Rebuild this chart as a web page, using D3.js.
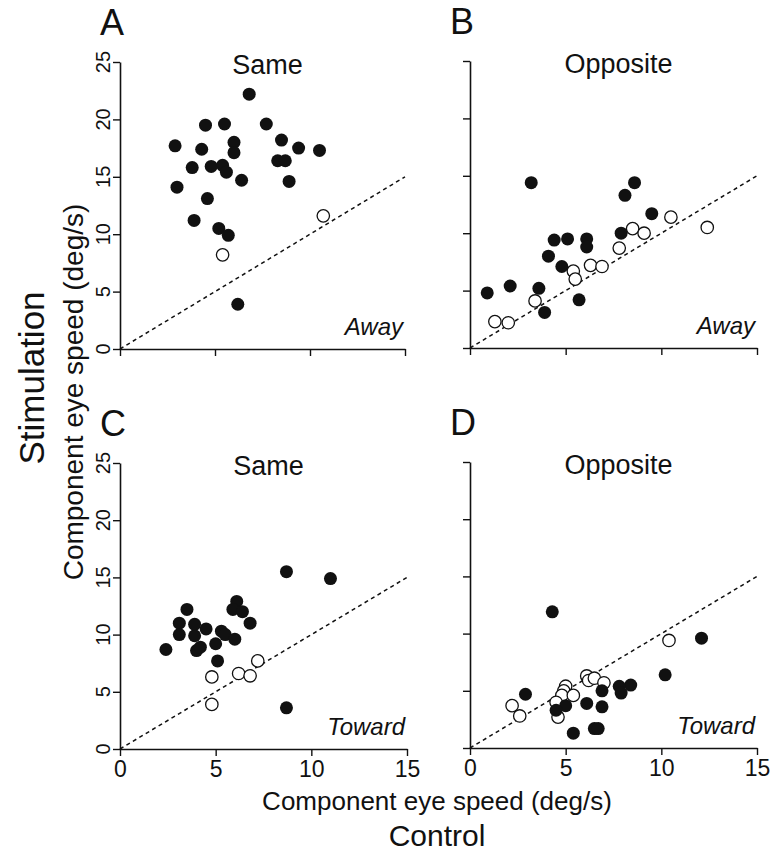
<!DOCTYPE html>
<html>
<head>
<meta charset="utf-8">
<script src="https://cdn.jsdelivr.net/npm/d3@7"></script>
<style>
  body { margin: 0; background: #fff; }
  svg { display: block; font-family: "Liberation Sans", Arial, Helvetica, sans-serif; }
</style>
</head>
<body>
<svg id="chart" width="773" height="854"></svg>
<script>
// values, [control, stimulation] in deg/s
const aFilled = [[6.8,22.2],[4.5,19.5],[5.5,19.6],[7.7,19.6],[2.9,17.7],[4.3,17.4],[6.0,18.0],[6.0,17.1],
  [8.5,18.2],[9.4,17.5],[10.5,17.3],[3.8,15.8],[4.8,15.9],[5.4,16.0],[5.6,15.4],[6.4,14.7],[8.3,16.4],
  [8.7,16.4],[8.9,14.6],[3.0,14.1],[4.6,13.1],[3.9,11.2],[5.2,10.5],[5.7,9.9],[6.2,3.9]]
const aOpen = [[5.4,8.2],[10.7,11.6]]

const bFilled = [[3.2,14.4],[8.6,14.4],[8.1,13.3],[9.5,11.7],[4.4,9.4],[5.1,9.5],[6.1,9.5],[6.1,8.8],
  [7.9,10.0],[4.1,8.0],[4.8,7.1],[0.9,4.8],[2.1,5.4],[3.6,5.2],[3.9,3.1],[5.7,4.2]]
const bOpen = [[10.5,11.4],[12.4,10.5],[8.5,10.4],[9.1,10.0],[7.8,8.7],[6.3,7.2],[6.9,7.1],[5.4,6.7],
  [5.5,6.0],[3.4,4.1],[1.3,2.3],[2.0,2.2]]

const cFilled = [[8.7,15.5],[11.0,14.9],[3.5,12.2],[6.1,12.9],[5.9,12.2],[6.4,12.0],[6.8,11.0],[3.1,11.0],
  [3.9,10.9],[4.5,10.5],[3.1,10.0],[3.9,9.9],[5.3,10.3],[5.5,10.0],[6.0,9.6],[5.0,9.2],[2.4,8.7],
  [4.0,8.6],[4.2,8.9],[5.1,7.7],[8.7,3.6]]
const cOpen = [[7.2,7.7],[6.2,6.6],[6.8,6.4],[4.8,6.3],[4.8,3.9]]

const dFilled = [[4.3,11.9],[12.1,9.6],[10.2,6.4],[8.4,5.5],[7.8,5.4],[7.9,4.8],[6.9,5.0],[2.9,4.7],
  [6.1,3.9],[6.9,3.6],[5.0,3.7],[4.5,3.3],[5.4,1.3],[6.5,1.7],[6.7,1.7]]
const dOpen = [[10.4,9.4],[6.1,6.3],[6.2,5.9],[6.5,6.1],[7.0,5.7],[5.0,5.4],[4.9,5.0],[4.8,4.6],
  [5.4,4.6],[4.5,4.0],[4.6,2.7],[2.2,3.7],[2.6,2.8]]

const xTicks = [0, 5, 10, 15]
const yTicks = [0, 5, 10, 15, 20, 25]
const unity = [[0, 0], [15, 15]]

const panelLetters = ["A", "B", "C", "D"]
const titles = ["Same", "Opposite", "Same", "Opposite"]
const directions = ["Away", "Away", "Toward", "Toward"]

const svg = d3.select("#chart")
const ink = "#111"

const panels = [
  { filled: aFilled, open: aOpen, x0: 120, x1: 405, y0: 349, y1: 62, xLab: false, yLab: true },
  { filled: bFilled, open: bOpen, x0: 470, x1: 757, y0: 348, y1: 61, xLab: false, yLab: false },
  { filled: cFilled, open: cOpen, x0: 120, x1: 407, y0: 749, y1: 463, xLab: true, yLab: true },
  { filled: dFilled, open: dOpen, x0: 470, x1: 757, y0: 748, y1: 462, xLab: true, yLab: false }
]

panels.forEach((p, i) => {
  const x = d3.scaleLinear().domain([0, 15]).range([p.x0, p.x1])
  const y = d3.scaleLinear().domain([0, 25]).range([p.y0, p.y1])
  const g = svg.append("g")

  // axes
  const xAxis = d3.axisBottom(x).tickValues(xTicks).tickSize(7).tickSizeOuter(0)
    .tickFormat(p.xLab ? d3.format("d") : "")
  const gx = g.append("g").attr("transform", `translate(0,${p.y0})`).call(xAxis)
  const yAxis = d3.axisLeft(y).tickValues(yTicks).tickSize(7).tickSizeOuter(0).tickFormat("")
  const gy = g.append("g").attr("transform", `translate(${p.x0},0)`).call(yAxis)

  ;[gx, gy].forEach(a => {
    a.select(".domain").attr("stroke", ink).attr("stroke-width", 1.6)
    a.selectAll(".tick line").attr("stroke", ink).attr("stroke-width", 1.4)
  })
  gx.selectAll(".tick text").attr("font-size", 23).attr("fill", ink)
    .attr("font-family", "'Liberation Sans', Arial, sans-serif").attr("dy", "0.8em")

  if (p.yLab) {
    g.selectAll(".ylab").data(yTicks).enter().append("text")
      .attr("transform", d => `translate(${p.x0 - 10},${y(d)}) rotate(-90)`)
      .attr("text-anchor", "middle")
      .attr("font-size", 20).attr("fill", ink)
      .text(d => d)
  }

  // unity line
  g.append("path").datum(unity)
    .attr("d", d3.line().x(d => x(d[0])).y(d => y(d[1])))
    .attr("fill", "none").attr("stroke", ink).attr("stroke-width", 1.5)
    .attr("stroke-dasharray", "4,3.5")

  // points
  g.selectAll(".open").data(p.open).enter().append("circle")
    .attr("cx", d => x(d[0])).attr("cy", d => y(d[1])).attr("r", 6.2)
    .attr("fill", "#fff").attr("stroke", ink).attr("stroke-width", 1.3)
  g.selectAll(".filled").data(p.filled).enter().append("circle")
    .attr("cx", d => x(d[0])).attr("cy", d => y(d[1])).attr("r", 6.5)
    .attr("fill", ink)

  // texts
  g.append("text").attr("x", p.x0 - 20).attr("y", p.y1 - 27)
    .attr("font-size", 36).attr("fill", ink).text(panelLetters[i])
  g.append("text").attr("x", (p.x0 + p.x1) / 2 + 5).attr("y", p.y1 + 12)
    .attr("text-anchor", "middle").attr("font-size", 27).attr("fill", ink).text(titles[i])
  g.append("text").attr("x", p.x1 - 2).attr("y", p.y0 - 14)
    .attr("text-anchor", "end").attr("font-size", 24).attr("font-style", "italic")
    .attr("fill", ink).text(directions[i])
})

// shared axis titles
svg.append("text").attr("x", 437).attr("y", 810).attr("text-anchor", "middle")
  .attr("font-size", 26).attr("fill", ink).text("Component eye speed (deg/s)")
svg.append("text").attr("x", 437).attr("y", 846).attr("text-anchor", "middle")
  .attr("font-size", 30).attr("fill", ink).text("Control")
svg.append("text").attr("transform", "translate(83,392) rotate(-90)").attr("text-anchor", "middle")
  .attr("font-size", 28).attr("fill", ink).text("Component eye speed (deg/s)")
svg.append("text").attr("transform", "translate(44,378) rotate(-90)").attr("text-anchor", "middle")
  .attr("font-size", 35).attr("fill", ink).text("Stimulation")
</script>
</body>
</html>
